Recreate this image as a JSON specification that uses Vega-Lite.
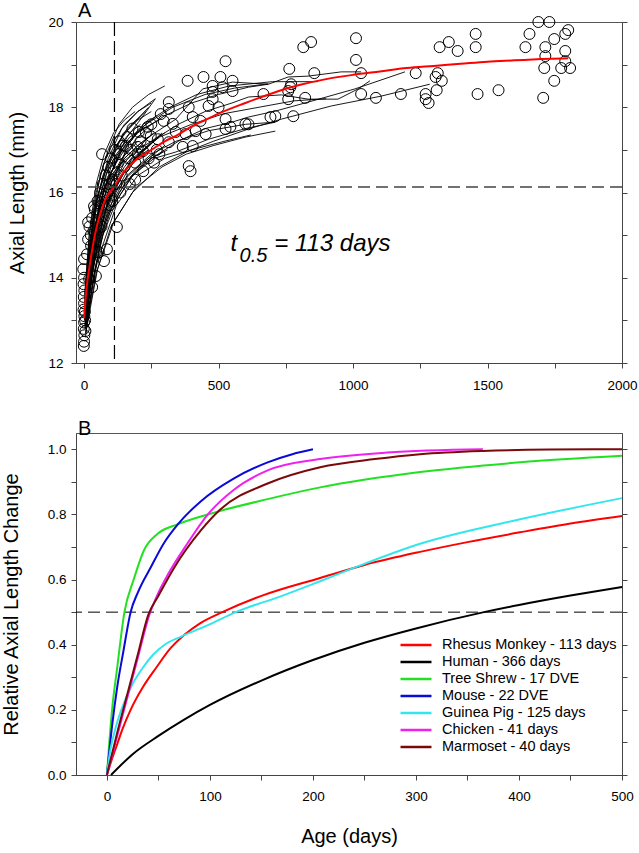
{
"$schema": "https://vega.github.io/schema/vega-lite/v6.json",
"padding": {"left": 0, "top": 0, "right": 0, "bottom": 0},
"bounds": "flush",
"spacing": 70,
"config": {
  "font": "Liberation Sans",
  "view": {"stroke": "#555", "strokeWidth": 1},
  "axis": {"grid": false, "labelFlush": false, "labelFont": "Liberation Sans", "labelFontSize": 13.5, "labelColor": "#000", "tickColor": "#444", "domainColor": "#444", "tickSize": 5, "titleFont": "Liberation Sans", "titleFontWeight": "normal", "titleFontSize": 20, "titleColor": "#000"},
  "title": {"font": "Liberation Sans", "fontWeight": "normal", "fontSize": 20, "color": "#000", "anchor": "start", "frame": "group"}
},
"datasets": {
"one": [{}],
"fitA": [
{"t":0,"L":13.05},{"t":10,"L":13.8},{"t":20,"L":14.25},{"t":40,"L":15.0},{"t":60,"L":15.5},{"t":80,"L":15.85},{"t":110,"L":16.12},{"t":150,"L":16.5},{"t":200,"L":16.8},{"t":250,"L":17.0},{"t":300,"L":17.2},{"t":350,"L":17.36},{"t":400,"L":17.55},{"t":450,"L":17.7},{"t":500,"L":17.85},{"t":600,"L":18.1},{"t":700,"L":18.33},{"t":800,"L":18.52},{"t":900,"L":18.66},{"t":1000,"L":18.76},{"t":1100,"L":18.84},{"t":1200,"L":18.92},{"t":1300,"L":18.97},{"t":1400,"L":19.02},{"t":1500,"L":19.07},{"t":1600,"L":19.1},{"t":1700,"L":19.13},{"t":1800,"L":19.15}
],
"curvesA": [
{"id":"s1","t":2,"L":13.2},{"id":"s1","t":20,"L":14.6},{"id":"s1","t":50,"L":15.9},{"id":"s1","t":90,"L":16.8},{"id":"s1","t":140,"L":17.5},{"id":"s1","t":200,"L":17.9},{"id":"s1","t":250,"L":18.1},
{"id":"s2","t":5,"L":13.0},{"id":"s2","t":25,"L":14.3},{"id":"s2","t":60,"L":15.7},{"id":"s2","t":100,"L":16.6},{"id":"s2","t":160,"L":17.3},{"id":"s2","t":220,"L":17.8},{"id":"s2","t":265,"L":18.2},
{"id":"s3","t":3,"L":12.8},{"id":"s3","t":30,"L":14.4},{"id":"s3","t":60,"L":15.4},{"id":"s3","t":100,"L":16.2},{"id":"s3","t":150,"L":16.9},{"id":"s3","t":200,"L":17.3},{"id":"s3","t":250,"L":17.6},
{"id":"s4","t":2,"L":13.4},{"id":"s4","t":20,"L":14.8},{"id":"s4","t":45,"L":15.8},{"id":"s4","t":80,"L":16.5},{"id":"s4","t":120,"L":17.0},{"id":"s4","t":170,"L":17.4},{"id":"s4","t":210,"L":17.6},
{"id":"s5","t":5,"L":12.9},{"id":"s5","t":30,"L":14.1},{"id":"s5","t":70,"L":15.3},{"id":"s5","t":110,"L":16.0},{"id":"s5","t":160,"L":16.6},{"id":"s5","t":220,"L":17.0},{"id":"s5","t":280,"L":17.3},
{"id":"s6","t":3,"L":13.1},{"id":"s6","t":25,"L":14.5},{"id":"s6","t":55,"L":15.5},{"id":"s6","t":90,"L":16.2},{"id":"s6","t":140,"L":16.8},{"id":"s6","t":200,"L":17.2},
{"id":"s7","t":6,"L":12.7},{"id":"s7","t":35,"L":14.0},{"id":"s7","t":70,"L":15.0},{"id":"s7","t":120,"L":15.8},{"id":"s7","t":180,"L":16.4},{"id":"s7","t":240,"L":16.8},{"id":"s7","t":300,"L":17.1},
{"id":"s8","t":2,"L":13.5},{"id":"s8","t":20,"L":15.0},{"id":"s8","t":45,"L":16.0},{"id":"s8","t":75,"L":16.7},{"id":"s8","t":110,"L":17.2},{"id":"s8","t":150,"L":17.6},{"id":"s8","t":200,"L":17.9},{"id":"s8","t":265,"L":18.2},
{"id":"s9","t":4,"L":13.0},{"id":"s9","t":30,"L":14.7},{"id":"s9","t":60,"L":15.9},{"id":"s9","t":100,"L":16.8},{"id":"s9","t":150,"L":17.4},{"id":"s9","t":200,"L":17.7},{"id":"s9","t":250,"L":17.9},
{"id":"s10","t":5,"L":13.3},{"id":"s10","t":30,"L":14.6},{"id":"s10","t":65,"L":15.6},{"id":"s10","t":105,"L":16.3},{"id":"s10","t":150,"L":16.8},{"id":"s10","t":200,"L":17.1},{"id":"s10","t":260,"L":17.4},
{"id":"s11","t":3,"L":12.9},{"id":"s11","t":25,"L":14.2},{"id":"s11","t":55,"L":15.2},{"id":"s11","t":95,"L":15.9},{"id":"s11","t":140,"L":16.4},{"id":"s11","t":190,"L":16.8},{"id":"s11","t":240,"L":17.0},
{"id":"s12","t":8,"L":13.6},{"id":"s12","t":35,"L":15.0},{"id":"s12","t":70,"L":16.0},{"id":"s12","t":110,"L":16.6},{"id":"s12","t":160,"L":17.1},{"id":"s12","t":210,"L":17.5},{"id":"s12","t":270,"L":17.8},
{"id":"s13","t":4,"L":13.2},{"id":"s13","t":20,"L":14.5},{"id":"s13","t":45,"L":15.6},{"id":"s13","t":80,"L":16.4},{"id":"s13","t":120,"L":16.9},{"id":"s13","t":170,"L":17.3},{"id":"s13","t":220,"L":17.5},{"id":"s13","t":280,"L":17.7},
{"id":"s14","t":6,"L":12.8},{"id":"s14","t":40,"L":14.2},{"id":"s14","t":80,"L":15.3},{"id":"s14","t":130,"L":16.0},{"id":"s14","t":190,"L":16.5},{"id":"s14","t":250,"L":16.8},{"id":"s14","t":310,"L":17.0},
{"id":"s15","t":3,"L":13.4},{"id":"s15","t":25,"L":14.9},{"id":"s15","t":50,"L":15.9},{"id":"s15","t":90,"L":16.7},{"id":"s15","t":130,"L":17.2},{"id":"s15","t":180,"L":17.6},{"id":"s15","t":230,"L":17.9},
{"id":"s16","t":2,"L":13.0},{"id":"s16","t":15,"L":14.3},{"id":"s16","t":35,"L":15.5},{"id":"s16","t":60,"L":16.4},{"id":"s16","t":90,"L":17.0},{"id":"s16","t":130,"L":17.6},{"id":"s16","t":180,"L":18.0},{"id":"s16","t":240,"L":18.3},{"id":"s16","t":300,"L":18.5},
{"id":"s17","t":5,"L":12.6},{"id":"s17","t":30,"L":13.8},{"id":"s17","t":65,"L":15.0},{"id":"s17","t":110,"L":15.9},{"id":"s17","t":160,"L":16.5},{"id":"s17","t":210,"L":16.9},{"id":"s17","t":260,"L":17.2},
{"id":"s18","t":4,"L":13.1},{"id":"s18","t":25,"L":14.4},{"id":"s18","t":60,"L":15.6},{"id":"s18","t":100,"L":16.3},{"id":"s18","t":150,"L":16.8},{"id":"s18","t":200,"L":17.1},{"id":"s18","t":240,"L":17.3},
{"id":"s19","t":3,"L":13.3},{"id":"s19","t":20,"L":14.7},{"id":"s19","t":40,"L":15.6},{"id":"s19","t":70,"L":16.4},{"id":"s19","t":110,"L":17.0},{"id":"s19","t":160,"L":17.5},{"id":"s19","t":210,"L":17.8},{"id":"s19","t":240,"L":18.0},
{"id":"s20","t":7,"L":13.0},{"id":"s20","t":40,"L":14.5},{"id":"s20","t":80,"L":15.6},{"id":"s20","t":130,"L":16.3},{"id":"s20","t":190,"L":16.8},{"id":"s20","t":240,"L":17.1},{"id":"s20","t":290,"L":17.4},
{"id":"s21","t":2,"L":13.6},{"id":"s21","t":20,"L":15.1},{"id":"s21","t":45,"L":16.2},{"id":"s21","t":75,"L":16.9},{"id":"s21","t":110,"L":17.4},{"id":"s21","t":150,"L":17.7},{"id":"s21","t":190,"L":17.9},
{"id":"s22","t":5,"L":12.9},{"id":"s22","t":30,"L":14.3},{"id":"s22","t":60,"L":15.2},{"id":"s22","t":100,"L":15.9},{"id":"s22","t":150,"L":16.3},{"id":"s22","t":200,"L":16.6},{"id":"s22","t":260,"L":16.9},
{"id":"s23","t":3,"L":13.2},{"id":"s23","t":30,"L":14.9},{"id":"s23","t":60,"L":15.8},{"id":"s23","t":100,"L":16.4},{"id":"s23","t":140,"L":16.7},{"id":"s23","t":180,"L":16.9},
{"id":"s24","t":4,"L":13.0},{"id":"s24","t":25,"L":14.2},{"id":"s24","t":55,"L":15.3},{"id":"s24","t":100,"L":16.1},{"id":"s24","t":150,"L":16.6},{"id":"s24","t":200,"L":17.0},{"id":"s24","t":250,"L":17.2},{"id":"s24","t":300,"L":17.4},
{"id":"l1","t":3,"L":13.2},{"id":"l1","t":30,"L":14.8},{"id":"l1","t":70,"L":16.0},{"id":"l1","t":130,"L":16.9},{"id":"l1","t":200,"L":17.4},{"id":"l1","t":300,"L":17.8},{"id":"l1","t":400,"L":18.1},{"id":"l1","t":500,"L":18.3},{"id":"l1","t":611,"L":18.47},{"id":"l1","t":685,"L":18.54},{"id":"l1","t":759,"L":18.71},{"id":"l1","t":833,"L":18.73},{"id":"l1","t":956,"L":18.83},{"id":"l1","t":1030,"L":18.83},
{"id":"l2","t":5,"L":13.0},{"id":"l2","t":40,"L":14.6},{"id":"l2","t":90,"L":15.8},{"id":"l2","t":160,"L":16.6},{"id":"l2","t":250,"L":17.2},{"id":"l2","t":350,"L":17.6},{"id":"l2","t":450,"L":17.9},{"id":"l2","t":550,"L":18.1},{"id":"l2","t":611,"L":18.24},{"id":"l2","t":733,"L":18.29},{"id":"l2","t":833,"L":18.19},{"id":"l2","t":944,"L":18.19},{"id":"l2","t":1019,"L":18.43},{"id":"l2","t":1063,"L":18.62},
{"id":"l3","t":4,"L":12.9},{"id":"l3","t":35,"L":14.3},{"id":"l3","t":80,"L":15.4},{"id":"l3","t":150,"L":16.2},{"id":"l3","t":250,"L":16.8},{"id":"l3","t":350,"L":17.2},{"id":"l3","t":450,"L":17.5},{"id":"l3","t":550,"L":17.65},{"id":"l3","t":611,"L":17.77},{"id":"l3","t":711,"L":17.91},{"id":"l3","t":833,"L":18.12},{"id":"l3","t":1007,"L":18.43},{"id":"l3","t":1193,"L":18.83},
{"id":"l4","t":6,"L":12.8},{"id":"l4","t":45,"L":14.1},{"id":"l4","t":100,"L":15.2},{"id":"l4","t":180,"L":16.0},{"id":"l4","t":280,"L":16.6},{"id":"l4","t":380,"L":16.95},{"id":"l4","t":480,"L":17.2},{"id":"l4","t":611,"L":17.49},{"id":"l4","t":733,"L":17.72},{"id":"l4","t":919,"L":18.03},{"id":"l4","t":1104,"L":18.26},{"id":"l4","t":1285,"L":18.54},
{"id":"l5","t":3,"L":13.1},{"id":"l5","t":35,"L":14.6},{"id":"l5","t":80,"L":15.8},{"id":"l5","t":150,"L":16.7},{"id":"l5","t":240,"L":17.3},{"id":"l5","t":341,"L":17.72},{"id":"l5","t":441,"L":18.43},{"id":"l5","t":552,"L":18.59},{"id":"l5","t":685,"L":18.54},
{"id":"l6","t":5,"L":13.0},{"id":"l6","t":40,"L":14.5},{"id":"l6","t":90,"L":15.6},{"id":"l6","t":160,"L":16.4},{"id":"l6","t":250,"L":16.9},{"id":"l6","t":341,"L":17.2},{"id":"l6","t":463,"L":17.45},{"id":"l6","t":600,"L":17.6},{"id":"l6","t":711,"L":17.65},
{"id":"l7","t":4,"L":13.3},{"id":"l7","t":30,"L":14.9},{"id":"l7","t":75,"L":16.1},{"id":"l7","t":140,"L":17.0},{"id":"l7","t":220,"L":17.6},{"id":"l7","t":320,"L":18.0},{"id":"l7","t":420,"L":18.3},{"id":"l7","t":540,"L":18.5},{"id":"l7","t":700,"L":18.6},{"id":"l7","t":870,"L":18.6},
{"id":"l8","t":6,"L":12.7},{"id":"l8","t":50,"L":14.2},{"id":"l8","t":110,"L":15.3},{"id":"l8","t":190,"L":16.1},{"id":"l8","t":290,"L":16.6},{"id":"l8","t":380,"L":16.9},{"id":"l8","t":480,"L":17.1},{"id":"l8","t":600,"L":17.3},{"id":"l8","t":711,"L":17.44},
{"id":"l9","t":5,"L":13.4},{"id":"l9","t":35,"L":15.0},{"id":"l9","t":80,"L":16.2},{"id":"l9","t":150,"L":17.1},{"id":"l9","t":230,"L":17.6},{"id":"l9","t":330,"L":18.0},{"id":"l9","t":450,"L":18.3},{"id":"l9","t":560,"L":18.45},{"id":"l9","t":685,"L":18.55},
{"id":"l10","t":3,"L":13.0},{"id":"l10","t":40,"L":14.7},{"id":"l10","t":100,"L":16.0},{"id":"l10","t":180,"L":16.8},{"id":"l10","t":280,"L":17.3},{"id":"l10","t":400,"L":17.6},{"id":"l10","t":520,"L":17.85},{"id":"l10","t":650,"L":18.0},{"id":"l10","t":780,"L":18.15},{"id":"l10","t":900,"L":18.2},
{"id":"l11","t":4,"L":13.0},{"id":"l11","t":40,"L":14.4},{"id":"l11","t":100,"L":15.6},{"id":"l11","t":180,"L":16.4},{"id":"l11","t":260,"L":16.8},{"id":"l11","t":341,"L":16.95},{"id":"l11","t":463,"L":17.25},{"id":"l11","t":600,"L":17.5},{"id":"l11","t":711,"L":17.65},
{"id":"l12","t":5,"L":12.9},{"id":"l12","t":50,"L":14.4},{"id":"l12","t":120,"L":15.7},{"id":"l12","t":200,"L":16.4},{"id":"l12","t":300,"L":16.8},{"id":"l12","t":400,"L":17.0},{"id":"l12","t":520,"L":17.2},{"id":"l12","t":620,"L":17.35}
],
"ptsA": [
{"t":-3,"L":14.2},{"t":0,"L":14.0},{"t":-2,"L":13.85},{"t":1,"L":13.7},{"t":-1,"L":13.55},{"t":0,"L":13.4},{"t":-2,"L":13.25},{"t":1,"L":13.1},{"t":0,"L":12.95},{"t":-1,"L":12.8},{"t":1,"L":12.65},{"t":0,"L":12.5},{"t":-1,"L":12.4},{"t":3,"L":13.2},{"t":4,"L":13.0},{"t":5,"L":12.75},
{"t":0,"L":14.44},{"t":11,"L":14.55},{"t":19,"L":13.97},{"t":30,"L":13.78},{"t":44,"L":14.04},{"t":74,"L":14.39},{"t":85,"L":14.67},{"t":37,"L":15.68},{"t":122,"L":15.19},{"t":26,"L":14.75},{"t":55,"L":14.6},{"t":15,"L":15.3},
{"t":15,"L":14.9},{"t":20,"L":15.2},{"t":25,"L":15.0},{"t":30,"L":15.4},{"t":35,"L":15.1},{"t":40,"L":15.6},{"t":45,"L":15.3},{"t":50,"L":15.8},{"t":55,"L":15.5},{"t":60,"L":16.0},{"t":65,"L":15.7},{"t":70,"L":16.2},{"t":75,"L":15.9},{"t":80,"L":16.4},{"t":85,"L":16.0},{"t":90,"L":16.6},{"t":95,"L":16.2},{"t":100,"L":16.8},{"t":105,"L":16.3},{"t":110,"L":16.5},{"t":115,"L":17.0},{"t":120,"L":16.2},{"t":125,"L":16.7},{"t":130,"L":16.9},{"t":140,"L":16.4},{"t":145,"L":17.1},{"t":150,"L":16.6},{"t":160,"L":17.3},{"t":165,"L":16.8},{"t":175,"L":17.0},{"t":180,"L":17.5},{"t":190,"L":16.7},{"t":200,"L":16.9},{"t":210,"L":17.2},{"t":220,"L":16.5},{"t":230,"L":17.4},{"t":240,"L":16.8},{"t":250,"L":17.6},{"t":260,"L":16.7},{"t":270,"L":17.0},{"t":280,"L":16.9},{"t":45,"L":14.6},{"t":65,"L":15.2},{"t":95,"L":15.7},{"t":105,"L":15.8},{"t":135,"L":16.0},{"t":170,"L":16.2},{"t":190,"L":16.3},
{"t":526,"L":19.08},{"t":385,"L":18.62},{"t":444,"L":18.71},{"t":507,"L":18.71},{"t":552,"L":18.62},{"t":478,"L":18.5},{"t":478,"L":18.36},{"t":515,"L":18.47},{"t":552,"L":18.38},{"t":667,"L":18.31},{"t":315,"L":18.12},{"t":315,"L":17.96},{"t":389,"L":18.0},{"t":463,"L":18.03},{"t":500,"L":18.0},{"t":478,"L":18.19},{"t":285,"L":17.84},{"t":296,"L":17.68},{"t":330,"L":17.61},{"t":404,"L":17.77},{"t":433,"L":17.68},{"t":526,"L":17.72},{"t":544,"L":17.54},{"t":526,"L":17.49},{"t":600,"L":17.61},{"t":693,"L":17.77},{"t":204,"L":17.42},{"t":237,"L":17.54},{"t":248,"L":17.32},{"t":274,"L":17.25},{"t":315,"L":17.18},{"t":341,"L":17.42},{"t":378,"L":17.37},{"t":415,"L":17.44},{"t":452,"L":17.37},{"t":367,"L":17.07},{"t":404,"L":17.09},{"t":200,"L":17.07},{"t":219,"L":16.97},{"t":67,"L":16.9},{"t":389,"L":16.62},{"t":396,"L":16.5},{"t":130,"L":17.2},{"t":156,"L":17.09},
{"t":763,"L":18.9},{"t":770,"L":18.54},{"t":759,"L":18.38},{"t":759,"L":18.19},{"t":711,"L":17.79},{"t":778,"L":17.79},{"t":611,"L":17.6},{"t":767,"L":18.47},
{"t":815,"L":19.41},{"t":844,"L":19.53},{"t":1011,"L":19.62},{"t":1011,"L":19.11},{"t":1030,"L":18.8},{"t":856,"L":18.8},{"t":822,"L":18.22},{"t":1030,"L":18.31},{"t":1085,"L":18.22},{"t":1178,"L":18.31},{"t":1233,"L":18.8},{"t":1322,"L":19.41},{"t":1356,"L":19.53},{"t":1389,"L":19.32},{"t":1307,"L":18.71},{"t":1315,"L":18.8},{"t":1330,"L":18.62},{"t":1311,"L":18.4},{"t":1270,"L":18.31},{"t":1270,"L":18.19},{"t":1281,"L":18.1},{"t":1456,"L":19.72},{"t":1456,"L":19.41},{"t":1463,"L":18.31},{"t":1541,"L":18.4},{"t":1641,"L":19.41},{"t":1656,"L":19.72},{"t":1689,"L":20.0},{"t":1730,"L":20.0},{"t":1715,"L":19.41},{"t":1748,"L":19.6},{"t":1789,"L":19.72},{"t":1800,"L":19.81},{"t":1715,"L":19.2},{"t":1789,"L":19.32},{"t":1789,"L":19.08},{"t":1711,"L":18.92},{"t":1774,"L":18.92},{"t":1807,"L":18.92},{"t":1748,"L":18.62},{"t":1707,"L":18.22}
],
"rel": [
{"s":"Rhesus Monkey - 113 days","t":0,"v":0},{"s":"Rhesus Monkey - 113 days","t":5,"v":0.05},{"s":"Rhesus Monkey - 113 days","t":10,"v":0.095},{"s":"Rhesus Monkey - 113 days","t":15,"v":0.14},{"s":"Rhesus Monkey - 113 days","t":23,"v":0.2},{"s":"Rhesus Monkey - 113 days","t":35,"v":0.27},{"s":"Rhesus Monkey - 113 days","t":48,"v":0.33},{"s":"Rhesus Monkey - 113 days","t":62,"v":0.39},{"s":"Rhesus Monkey - 113 days","t":75,"v":0.43},{"s":"Rhesus Monkey - 113 days","t":90,"v":0.465},{"s":"Rhesus Monkey - 113 days","t":112,"v":0.5},{"s":"Rhesus Monkey - 113 days","t":150,"v":0.55},{"s":"Rhesus Monkey - 113 days","t":207,"v":0.605},{"s":"Rhesus Monkey - 113 days","t":250,"v":0.645},{"s":"Rhesus Monkey - 113 days","t":304,"v":0.685},{"s":"Rhesus Monkey - 113 days","t":350,"v":0.715},{"s":"Rhesus Monkey - 113 days","t":401,"v":0.745},{"s":"Rhesus Monkey - 113 days","t":450,"v":0.772},{"s":"Rhesus Monkey - 113 days","t":500,"v":0.795},
{"s":"Human - 366 days","t":4,"v":0},{"s":"Human - 366 days","t":25,"v":0.064},{"s":"Human - 366 days","t":50,"v":0.12},{"s":"Human - 366 days","t":75,"v":0.17},{"s":"Human - 366 days","t":100,"v":0.215},{"s":"Human - 366 days","t":150,"v":0.29},{"s":"Human - 366 days","t":200,"v":0.353},{"s":"Human - 366 days","t":250,"v":0.406},{"s":"Human - 366 days","t":300,"v":0.45},{"s":"Human - 366 days","t":366,"v":0.5},{"s":"Human - 366 days","t":400,"v":0.522},{"s":"Human - 366 days","t":450,"v":0.551},{"s":"Human - 366 days","t":500,"v":0.577},
{"s":"Tree Shrew - 17 DVE","t":0,"v":0},{"s":"Tree Shrew - 17 DVE","t":5,"v":0.2},{"s":"Tree Shrew - 17 DVE","t":10,"v":0.33},{"s":"Tree Shrew - 17 DVE","t":17,"v":0.5},{"s":"Tree Shrew - 17 DVE","t":26,"v":0.6},{"s":"Tree Shrew - 17 DVE","t":36,"v":0.69},{"s":"Tree Shrew - 17 DVE","t":49,"v":0.74},{"s":"Tree Shrew - 17 DVE","t":69,"v":0.77},{"s":"Tree Shrew - 17 DVE","t":98,"v":0.8},{"s":"Tree Shrew - 17 DVE","t":156,"v":0.847},{"s":"Tree Shrew - 17 DVE","t":207,"v":0.883},{"s":"Tree Shrew - 17 DVE","t":304,"v":0.93},{"s":"Tree Shrew - 17 DVE","t":401,"v":0.96},{"s":"Tree Shrew - 17 DVE","t":500,"v":0.98},
{"s":"Mouse - 22 DVE","t":0,"v":0},{"s":"Mouse - 22 DVE","t":5,"v":0.15},{"s":"Mouse - 22 DVE","t":10,"v":0.27},{"s":"Mouse - 22 DVE","t":16,"v":0.38},{"s":"Mouse - 22 DVE","t":23,"v":0.5},{"s":"Mouse - 22 DVE","t":30,"v":0.56},{"s":"Mouse - 22 DVE","t":43,"v":0.64},{"s":"Mouse - 22 DVE","t":55,"v":0.71},{"s":"Mouse - 22 DVE","t":69,"v":0.77},{"s":"Mouse - 22 DVE","t":91,"v":0.84},{"s":"Mouse - 22 DVE","t":123,"v":0.91},{"s":"Mouse - 22 DVE","t":156,"v":0.96},{"s":"Mouse - 22 DVE","t":180,"v":0.985},{"s":"Mouse - 22 DVE","t":200,"v":1.0},
{"s":"Guinea Pig - 125 days","t":0,"v":0},{"s":"Guinea Pig - 125 days","t":3,"v":0.07},{"s":"Guinea Pig - 125 days","t":8,"v":0.14},{"s":"Guinea Pig - 125 days","t":14,"v":0.2},{"s":"Guinea Pig - 125 days","t":25,"v":0.28},{"s":"Guinea Pig - 125 days","t":35,"v":0.33},{"s":"Guinea Pig - 125 days","t":45,"v":0.37},{"s":"Guinea Pig - 125 days","t":56,"v":0.4},{"s":"Guinea Pig - 125 days","t":72,"v":0.425},{"s":"Guinea Pig - 125 days","t":98,"v":0.46},{"s":"Guinea Pig - 125 days","t":125,"v":0.5},{"s":"Guinea Pig - 125 days","t":170,"v":0.55},{"s":"Guinea Pig - 125 days","t":207,"v":0.595},{"s":"Guinea Pig - 125 days","t":239,"v":0.635},{"s":"Guinea Pig - 125 days","t":304,"v":0.71},{"s":"Guinea Pig - 125 days","t":401,"v":0.785},{"s":"Guinea Pig - 125 days","t":500,"v":0.85},
{"s":"Chicken - 41 days","t":0,"v":0},{"s":"Chicken - 41 days","t":10,"v":0.12},{"s":"Chicken - 41 days","t":20,"v":0.24},{"s":"Chicken - 41 days","t":30,"v":0.36},{"s":"Chicken - 41 days","t":41,"v":0.49},{"s":"Chicken - 41 days","t":50,"v":0.56},{"s":"Chicken - 41 days","t":60,"v":0.62},{"s":"Chicken - 41 days","t":78,"v":0.71},{"s":"Chicken - 41 days","t":98,"v":0.8},{"s":"Chicken - 41 days","t":123,"v":0.875},{"s":"Chicken - 41 days","t":156,"v":0.935},{"s":"Chicken - 41 days","t":207,"v":0.97},{"s":"Chicken - 41 days","t":272,"v":0.99},{"s":"Chicken - 41 days","t":365,"v":1.0},
{"s":"Marmoset - 40 days","t":0,"v":0},{"s":"Marmoset - 40 days","t":10,"v":0.13},{"s":"Marmoset - 40 days","t":20,"v":0.25},{"s":"Marmoset - 40 days","t":30,"v":0.37},{"s":"Marmoset - 40 days","t":40,"v":0.49},{"s":"Marmoset - 40 days","t":50,"v":0.55},{"s":"Marmoset - 40 days","t":65,"v":0.635},{"s":"Marmoset - 40 days","t":91,"v":0.75},{"s":"Marmoset - 40 days","t":110,"v":0.815},{"s":"Marmoset - 40 days","t":156,"v":0.895},{"s":"Marmoset - 40 days","t":207,"v":0.945},{"s":"Marmoset - 40 days","t":260,"v":0.97},{"s":"Marmoset - 40 days","t":304,"v":0.985},{"s":"Marmoset - 40 days","t":365,"v":0.995},{"s":"Marmoset - 40 days","t":430,"v":0.999},{"s":"Marmoset - 40 days","t":500,"v":1.0}
]
},
"vconcat": [
{
  "width": 546, "height": 341,
  "title": {"text": "A", "offset": -6, "dx": 2},
  "resolve": {"axis": {"y": "independent"}},
  "layer": [
    {
      "data": {"name": "curvesA"},
      "mark": {"type": "line", "color": "#000", "strokeWidth": 0.9},
      "encoding": {
        "x": {"field": "t", "type": "quantitative", "scale": {"domain": [-30, 2000], "nice": false, "zero": false},
              "axis": {"title": null, "values": [0,250,500,750,1000,1250,1500,1750,2000], "format": "d", "labelExpr": "datum.value % 500 === 0 ? datum.label : ''", "labelPadding": 10}},
        "y": {"field": "L", "type": "quantitative", "scale": {"domain": [12, 20], "nice": false, "zero": false},
              "axis": {"title": "Axial Length (mm)", "values": [12,13,14,15,16,17,18,19,20], "format": "d", "labelExpr": "datum.value % 2 === 0 ? datum.label : ''", "labelPadding": 8, "titlePadding": 20}},
        "detail": {"field": "id"}
      }
    },
    {
      "data": {"name": "ptsA"},
      "mark": {"type": "point", "shape": "circle", "filled": false, "stroke": "#000", "strokeWidth": 1, "size": 120, "opacity": 1},
      "encoding": {
        "x": {"field": "t", "type": "quantitative", "scale": {"domain": [-30, 2000], "nice": false, "zero": false}},
        "y": {"field": "L", "type": "quantitative", "scale": {"domain": [12, 20], "nice": false, "zero": false}, "axis": null}
      }
    },
    {
      "data": {"name": "fitA"},
      "mark": {"type": "line", "color": "#ff0000", "strokeWidth": 2, "interpolate": "monotone"},
      "encoding": {
        "x": {"field": "t", "type": "quantitative", "scale": {"domain": [-30, 2000], "nice": false, "zero": false}},
        "y": {"field": "L", "type": "quantitative", "scale": {"domain": [12, 20], "nice": false, "zero": false}, "axis": null}
      }
    },
    {
      "data": {"name": "one"},
      "mark": {"type": "rule", "color": "#000", "strokeWidth": 1.2, "strokeDash": [14, 5]},
      "encoding": {"x": {"datum": 113, "type": "quantitative"}}
    },
    {
      "data": {"name": "one"},
      "mark": {"type": "rule", "color": "#444", "strokeWidth": 1.5, "strokeDash": [12, 6]},
      "encoding": {"y": {"datum": 16.13, "type": "quantitative", "scale": {"domain": [12, 20], "nice": false, "zero": false},
        "axis": {"orient": "right", "title": null, "labels": false, "values": [12,13,14,15,16,17,18,19,20]}}}
    },
    {
      "data": {"name": "one"},
      "mark": {"type": "text", "text": "t", "fontStyle": "italic", "fontSize": 24, "align": "left", "baseline": "alphabetic", "font": "Liberation Sans"},
      "encoding": {"x": {"datum": 544, "type": "quantitative"}, "y": {"datum": 14.62, "type": "quantitative", "axis": null}}
    },
    {
      "data": {"name": "one"},
      "mark": {"type": "text", "text": "0.5", "fontStyle": "italic", "fontSize": 20, "align": "left", "baseline": "alphabetic", "font": "Liberation Sans"},
      "encoding": {"x": {"datum": 578, "type": "quantitative"}, "y": {"datum": 14.37, "type": "quantitative", "axis": null}}
    },
    {
      "data": {"name": "one"},
      "mark": {"type": "text", "text": "= 113 days", "fontStyle": "italic", "fontSize": 24, "align": "left", "baseline": "alphabetic", "font": "Liberation Sans"},
      "encoding": {"x": {"datum": 707, "type": "quantitative"}, "y": {"datum": 14.62, "type": "quantitative", "axis": null}}
    }
  ]
},
{
  "width": 546, "height": 342,
  "title": {"text": "B", "offset": -6, "dx": 2},
  "resolve": {"axis": {"y": "independent"}},
  "layer": [
    {
      "data": {"name": "one"},
      "mark": {"type": "rule", "color": "#000", "strokeWidth": 1, "strokeDash": [12, 6]},
      "encoding": {"y": {"datum": 0.5, "type": "quantitative", "scale": {"domain": [0, 1.05], "nice": false, "zero": false},
        "axis": {"orient": "right", "title": null, "labels": false, "values": [0,0.1,0.2,0.3,0.4,0.5,0.6,0.7,0.8,0.9,1.0]}}}
    },
    {
      "data": {"name": "rel"},
      "mark": {"type": "line", "strokeWidth": 2, "interpolate": "monotone"},
      "encoding": {
        "x": {"field": "t", "type": "quantitative", "scale": {"domain": [-30, 500], "nice": false, "zero": false},
              "axis": {"title": "Age (days)", "values": [0,50,100,150,200,250,300,350,400,450,500], "format": "d", "labelExpr": "datum.value % 100 === 0 ? datum.label : ''", "labelPadding": 9, "titlePadding": 24}},
        "y": {"field": "v", "type": "quantitative", "scale": {"domain": [0, 1.05], "nice": false, "zero": false},
              "axis": {"title": "Relative Axial Length Change", "values": [0,0.1,0.2,0.3,0.4,0.5,0.6,0.7,0.8,0.9,1.0], "labelExpr": "round(datum.value*10) % 2 === 0 ? format(datum.value, '.1f') : ''", "labelPadding": 5, "titlePadding": 26}},
        "color": {"field": "s", "type": "nominal", "sort": null,
          "scale": {"domain": ["Rhesus Monkey - 113 days","Human - 366 days","Tree Shrew - 17 DVE","Mouse - 22 DVE","Guinea Pig - 125 days","Chicken - 41 days","Marmoset - 40 days"],
                    "range": ["#ff0000","#000000","#22e022","#0a0ad8","#33e6ee","#f020f0","#7a0a0a"]},
          "legend": {"title": null, "orient": "none", "legendX": 331, "legendY": 614, "symbolType": "M-2,0H2", "symbolSize": 240, "symbolStrokeWidth": 2.5, "labelFontSize": 14.5, "labelFont": "Liberation Sans", "labelColor": "#000", "labelLimit": 400, "labelOffset": 17, "rowPadding": 1, "padding": 0}}
      }
    }
  ]
}
]
}
